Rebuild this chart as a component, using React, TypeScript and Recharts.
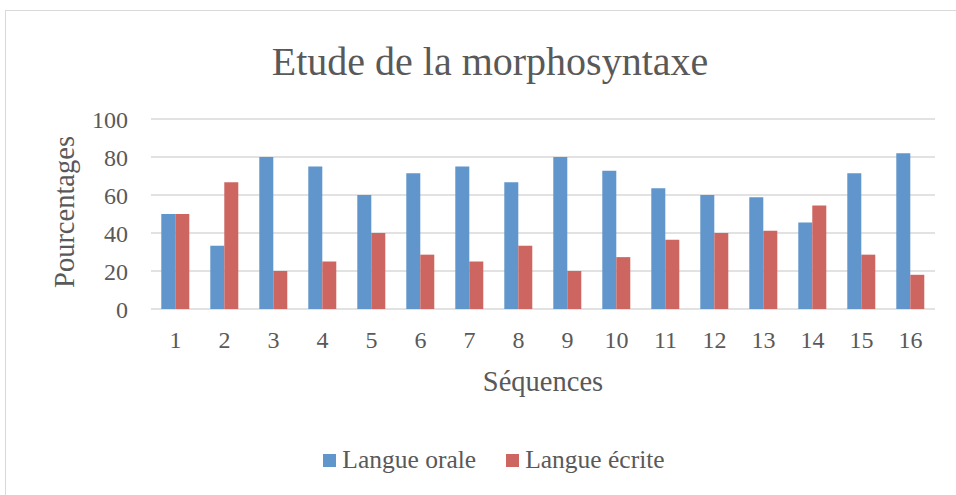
import { BarChart, Bar, XAxis, YAxis, CartesianGrid, Legend } from "recharts";

const categories = ["1", "2", "3", "4", "5", "6", "7", "8", "9", "10", "11", "12", "13", "14", "15", "16"];
const langueOrale = [50, 33.3, 80, 75, 60, 71.4, 75, 66.7, 80, 72.7, 63.6, 60, 58.8, 45.5, 71.4, 82];
const langueEcrite = [50, 66.7, 20, 25, 40, 28.6, 25, 33.3, 20, 27.3, 36.4, 40, 41.2, 54.5, 28.6, 18];
const yTicks = [0, 20, 40, 60, 80, 100];

const FONT = "'Liberation Serif', serif";
const TEXT = "#595959";
const BLUE = "#6096CB";
const RED = "#CD6660";

const data = categories.map((c, i) => ({
  seq: c,
  orale: langueOrale[i],
  ecrite: langueEcrite[i],
}));

function LegendContent({ payload }: any) {
  return (
    <div style={{ display: "flex", justifyContent: "center", alignItems: "center", fontFamily: FONT, fontSize: 25.5, color: TEXT }}>
      {(payload || []).map((p: any, i: number) => (
        <div key={p.value} style={{ display: "flex", alignItems: "center", marginLeft: i ? 30 : 0 }}>
          <span style={{ width: 13, height: 13, background: p.color, display: "inline-block", marginRight: 6 }} />
          <span>{p.value}</span>
        </div>
      ))}
    </div>
  );
}

export default function App() {
  return (
    <div style={{ position: "absolute", left: 0, top: 0, width: 956, height: 495, overflow: "hidden", background: "#fff" }}>
      <div style={{ position: "absolute", left: 5, top: 10, width: 960, height: 500, border: "1px solid #d9d9d9" }} />
      <div
        style={{
          position: "absolute",
          left: 0,
          width: 980,
          top: 39,
          textAlign: "center",
          fontFamily: FONT,
          fontSize: 40,
          color: TEXT,
          lineHeight: "46px",
        }}
      >
        Etude de la morphosyntaxe
      </div>
      <div style={{ position: "absolute", left: 0, top: 0 }}>
        <BarChart
          width={956}
          height={495}
          data={data}
          margin={{ top: 119, right: 21, bottom: 106, left: 0 }}
          barCategoryGap="21%"
          barGap={0}
        >
          <CartesianGrid vertical={false} stroke="#d9d9d9" strokeWidth={1.5} />
          <XAxis
            dataKey="seq"
            height={80}
            axisLine={false}
            tickLine={false}
            tickSize={0}
            tickMargin={22}
            tick={{ fill: TEXT, fontFamily: FONT, fontSize: 24 }}
            label={{ value: "Séquences", position: "center", dy: 32, fill: TEXT, fontFamily: FONT, fontSize: 28.5 }}
          />
          <YAxis
            width={151}
            domain={[0, 100]}
            ticks={yTicks}
            axisLine={false}
            tickLine={false}
            tickSize={0}
            tickMargin={23}
            tick={{ fill: TEXT, fontFamily: FONT, fontSize: 24 }}
            label={{ value: "Pourcentages", position: "center", angle: -90, dx: -12, dy: -2, fill: TEXT, fontFamily: FONT, fontSize: 28.5 }}
          />
          <Legend
            verticalAlign="middle"
            layout="horizontal"
            wrapperStyle={{ top: 445, left: 0, width: 988 }}
            content={<LegendContent />}
          />
          <Bar dataKey="orale" name="Langue orale" fill={BLUE} isAnimationActive={false} />
          <Bar dataKey="ecrite" name="Langue écrite" fill={RED} isAnimationActive={false} />
        </BarChart>
      </div>
    </div>
  );
}
